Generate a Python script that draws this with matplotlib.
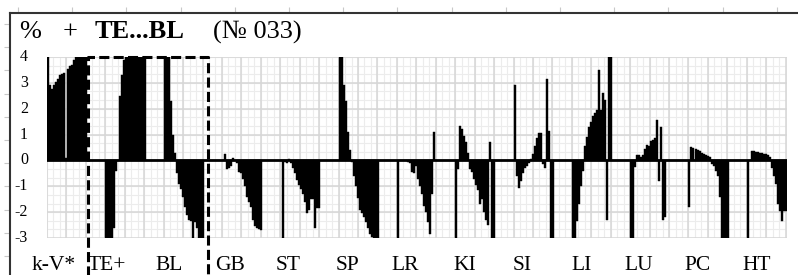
import numpy as np
import matplotlib
matplotlib.use("Agg")
import matplotlib.pyplot as plt

# ---------------- data ----------------
categories = ["k-V*", "TE+", "BL", "GB", "ST", "SP", "LR", "KI", "SI", "LI", "LU", "PC", "HT"]

kV = [4.0, 2.9, 2.75, 2.9, 3.05, 3.15, 3.3, 3.35, 3.4, 0.1,
      3.55, 3.65, 3.7, 3.9, 4.0, 4.0, 4.0, 4.0, 4.0, 4.0]
TE = [-3.0, -3.0, -3.0, -3.0, -2.6, -0.4, 0.0, 2.5, 3.3, 3.9,
      4.0, 4.0, 4.0, 4.0, 4.0, 4.0, 4.0, 4.0, 4.0, 4.0]
BL = [4.0, 4.0, 4.0, 2.3, 1.0, 0.3, -0.5, -0.9, -1.1, -1.4,
      -1.8, -2.1, -2.3, -2.35, -3.0, -2.4, -2.6, -3.0, -3.0, -3.0]
GB = [0.0, 0.25, -0.35, -0.3, -0.2, 0.1, 0.0, -0.1, -0.45, -0.5,
      -0.7, -1.0, -1.4, -1.6, -1.8, -2.3, -2.55, -2.6, -2.65, -2.7]
ST = [0.0, -3.0, -0.05, -0.1, 0.05, -0.1, -0.3, -0.5, -0.75, -0.95,
      -1.1, -1.3, -1.6, -2.05, -1.9, -1.5, -1.5, -2.6, -1.85, -1.85]
SP = [4.0, 4.0, 2.9, 2.3, 1.1, 0.4, -0.05, -0.6, -1.0, -1.45,
      -1.9, -2.05, -2.2, -2.4, -2.6, -2.85, -2.95, -3.0, -3.0, -3.0]
LR = [-3.0, 0.0, 0.0, 0.0, 0.0, -0.05, -0.1, -0.45, -0.5, -0.2,
      -0.7, -1.0, -1.3, -1.75, -2.0, -2.4, -2.85, -1.3, 1.1, 0.0]
KI = [-3.0, -0.35, 1.35, 1.2, 0.95, 0.7, 0.3, -0.35, -0.45, -0.7,
      -0.95, -1.15, -1.7, -1.5, -2.0, -2.3, -2.5, 0.73, -3.0, -3.0]
SI = [2.9, -0.6, -1.05, -0.8, -0.5, -0.3, -0.2, -0.1, 0.05, 0.25,
      0.55, 0.85, 1.05, 1.05, -0.15, -0.3, 3.15, 1.15, -3.0, -3.0]
LI = [-3.0, -3.0, -2.35, -1.7, -1.0, -0.4, 0.55, 0.9, 1.3, 1.5,
      1.7, 1.85, 1.95, 3.5, 1.95, 2.6, 2.35, -2.3, 4.0, 4.0]
LU = [-3.0, -3.0, -0.25, 0.2, 0.2, 0.15, 0.2, 0.45, 0.6, 0.55,
      0.75, 0.8, 0.85, 1.55, -0.8, 1.3, -2.3, -2.2, 0.0, 0.0]
PC = [-1.8, 0.52, 0.5, 0.45, 0.4, 0.35, 0.3, 0.25, 0.2, 0.18,
      0.12, -0.15, -0.2, -0.4, -0.6, -1.4, -3.0, -3.0, -3.0, -3.0]
HT = [-3.0, 0.0, 0.37, 0.36, 0.33, 0.31, 0.28, 0.27, 0.26, 0.25,
      0.2, 0.15, -0.3, -0.6, -0.9, -1.7, -1.95, -2.35, -1.95, -1.95]

series = [kV, TE, BL, GB, ST, SP, LR, KI, SI, LI, LU, PC, HT]
y_ticks = [4, 3, 2, 1, 0, -1, -2, -3]

# ---------------- layout ----------------
W, H = 798, 275
GROUP = 29                      # slots per group (data + gap)
label_shift = [3.5, 0.9, 2.7, 4.0, 3.9, 4.3, 4.0, 5.0, 4.3, 4.7, 4.5, 4.4, 4.7]
serif = ["Liberation Serif", "DejaVu Serif"]

fig = plt.figure(figsize=(W / 100, H / 100), dpi=100)

# outer frame (top + left border with faint outward ticks)
frame = fig.add_axes([10 / W, 0, (W - 10) / W, (H - 13) / H])
frame.set_xlim(10, W)
frame.set_ylim(H, 13)
frame.patch.set_alpha(0)
for s in ("right", "bottom"):
    frame.spines[s].set_visible(False)
for s in ("top", "left"):
    frame.spines[s].set_color("#333333")
    frame.spines[s].set_linewidth(1.5)
frame.xaxis.tick_top()
frame.set_xticks(np.arange(18, W, 54.2))
frame.set_yticks(np.arange(24, H, 23.2))
frame.tick_params(direction="out", length=4, width=0.8, color="#c8c8c8",
                  labeltop=False, labelleft=False, labelbottom=False)

# main plot
ax = fig.add_axes([47 / W, (H - 238) / H, 740 / W, 181 / H])
n_slots = GROUP * (len(series) - 1) + len(series[-1])
ax.set_xlim(0, n_slots)
ax.set_ylim(-3, 4)
for s in ax.spines.values():
    s.set_visible(False)
ax.set_xticks([])
ax.set_yticks([])

# grid
for xv in np.arange(0, n_slots + 0.01, GROUP / 9):
    ax.axvline(xv, color="#ececec", lw=0.8, zorder=0)
for yv in np.arange(-3, 4.01, 1 / 3):
    ax.axhline(yv, color="#ececec", lw=0.8, zorder=0)
for xv in np.arange(0, n_slots + 0.01, GROUP / 3):
    ax.axvline(xv, color="#d6d6d6", lw=1.1, zorder=0.5)
for yv in range(-3, 5):
    ax.axhline(yv, color="#d6d6d6", lw=1.1, zorder=0.5)

# bars
for k, vals in enumerate(series):
    x = k * GROUP + np.arange(len(vals))
    ax.bar(x, vals, width=1, align="edge", color="black",
           edgecolor="black", linewidth=0.3, zorder=2)

ax.axhline(0, color="black", lw=2.0, zorder=3)

# dashed box around TE+ ... BL
xl = len(kV) + 0.4
xr = 2 * GROUP + len(BL) + 2.1
ax.plot([xl, xl, xr, xr], [-4.6, 4, 4, -4.6], color="black", lw=2.2,
        ls=(0, (3.3, 1.4)), clip_on=False, zorder=5)

# y labels
for v in y_ticks:
    ax.text(-19 / 740, v, str(v), transform=ax.get_yaxis_transform(),
            ha="right", va="center", fontsize=11.5, family=serif)

# x labels
trans = ax.get_xaxis_transform()
for k, name in enumerate(categories):
    ax.text(k * GROUP + label_shift[k], -(270 - 238) / 181, name, transform=trans,
            ha="center", va="baseline", fontsize=15.5, family=serif)

# title
ty = 1 - 38.5 / H
fig.text(30.5 / W, ty, "%", ha="center", va="baseline", fontsize=19, family=serif)
fig.text(70 / W, ty, "+", ha="center", va="baseline", fontsize=19, family=serif)
fig.text(139.5 / W, ty, "TE...BL", ha="center", va="baseline", fontsize=19,
         family=serif, fontweight="bold")
fig.text(257 / W, ty, "(№ 033)", ha="center", va="baseline", fontsize=19, family=serif)

fig.savefig("out.png", dpi=100)
